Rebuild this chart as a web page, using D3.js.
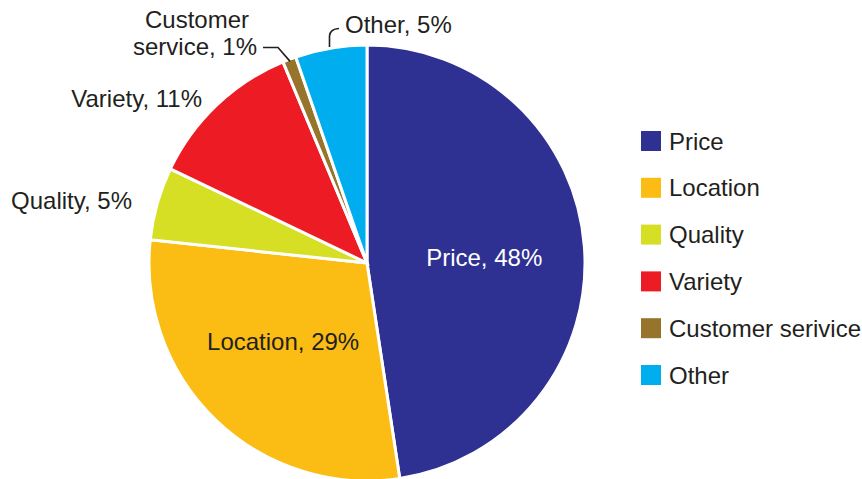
<!DOCTYPE html>
<html>
<head>
<meta charset="utf-8">
<script src="https://cdn.jsdelivr.net/npm/d3@7"></script>
<style>
  body { margin: 0; background: #fff; }
  text { font-family: "Liberation Sans", Arial, Helvetica, sans-serif; }
</style>
</head>
<body>
<div id="chart"></div>
<script>
// data (shares, labels as printed)
const categories = ["Price", "Location", "Quality", "Variety", "Customer service", "Other"]
const legendNames = ["Price", "Location", "Quality", "Variety", "Customer serivice", "Other"]
const shares = [47.6, 29.1, 5.4, 11.6, 1.0, 5.3]
const pctLabels = ["48%", "29%", "5%", "11%", "1%", "5%"]
const colors = ["#2e3192", "#fbbd13", "#d6df23", "#ed1c24", "#96742c", "#00adee"]

const width = 862, height = 479
const cx = 367, cy = 263, radius = 218
const fontSize = 24
const ink = "#231f20"

const svg = d3.select("#chart")
    .append("svg")
    .attr("width", width)
    .attr("height", height)

const color = d3.scaleOrdinal()
    .domain(categories)
    .range(colors)

const pie = d3.pie()
    .sort(null)
    .value(d => d.value)

const arc = d3.arc()
    .innerRadius(0)
    .outerRadius(radius)

const data = categories.map((c, i) => ({ name: c, value: shares[i], pct: pctLabels[i] }))
const arcs = pie(data)

const g = svg.append("g")
    .attr("transform", "translate(" + cx + "," + cy + ")")

g.selectAll("path.slice")
    .data(arcs)
    .enter().append("path")
    .attr("class", "slice")
    .attr("d", arc)
    .style("fill", d => color(d.data.name))
    .style("stroke", "#fff")
    .style("stroke-width", 3)
    .style("stroke-linejoin", "miter")

// labels inside the two big slices
const inner = d3.arc().innerRadius(0).outerRadius(radius * 1.06)
const insideLabel = [
    { i: 0, dx: 2, dy: 12, fill: "#fff" },
    { i: 1, dx: -4, dy: 4, fill: ink }
]
insideLabel.forEach(l => {
    const c = inner.centroid(arcs[l.i])
    g.append("text")
        .attr("x", c[0] + l.dx)
        .attr("y", c[1] + l.dy)
        .attr("text-anchor", "middle")
        .style("font-size", fontSize + "px")
        .style("fill", l.fill)
        .text(categories[l.i] + ", " + pctLabels[l.i])
})

// outside labels
svg.append("text")
    .attr("x", 132).attr("y", 209)
    .attr("text-anchor", "end")
    .style("font-size", fontSize + "px").style("fill", ink)
    .text("Quality, " + pctLabels[2])

svg.append("text")
    .attr("x", 202).attr("y", 107)
    .attr("text-anchor", "end")
    .style("font-size", fontSize + "px").style("fill", ink)
    .text("Variety, " + pctLabels[3])

const cs = svg.append("text")
    .attr("text-anchor", "middle")
    .style("font-size", fontSize + "px").style("fill", ink)
cs.append("tspan").attr("x", 197).attr("y", 28).text("Customer")
cs.append("tspan").attr("x", 195).attr("y", 55).text("service, " + pctLabels[4])

svg.append("text")
    .attr("x", 345).attr("y", 33)
    .style("font-size", fontSize + "px").style("fill", ink)
    .text("Other, " + pctLabels[5])

// leader lines
const csEdge = arc.centroid(arcs[4]).map(v => v * 2 * 0.99)
svg.append("path")
    .attr("d", "M263,47.5 L278,47.5 L" + (cx + csEdge[0]) + "," + (cy + csEdge[1]))
    .style("fill", "none").style("stroke", ink).style("stroke-width", 1.6)

svg.append("path")
    .attr("d", "M329.5,47 L329.5,36 Q330,29 339,28.5")
    .style("fill", "none").style("stroke", ink).style("stroke-width", 1.6)

// legend
const legend = svg.append("g")
    .attr("transform", "translate(641,131)")

const rows = legend.selectAll("g.row")
    .data(legendNames)
    .enter().append("g")
    .attr("class", "row")
    .attr("transform", (d, i) => "translate(0," + (i * 46.8) + ")")

rows.append("rect")
    .attr("width", 20)
    .attr("height", 20)
    .style("fill", (d, i) => colors[i])

rows.append("text")
    .attr("x", 28)
    .attr("y", 18.5)
    .style("font-size", fontSize + "px")
    .style("fill", ink)
    .text(d => d)
</script>
</body>
</html>
